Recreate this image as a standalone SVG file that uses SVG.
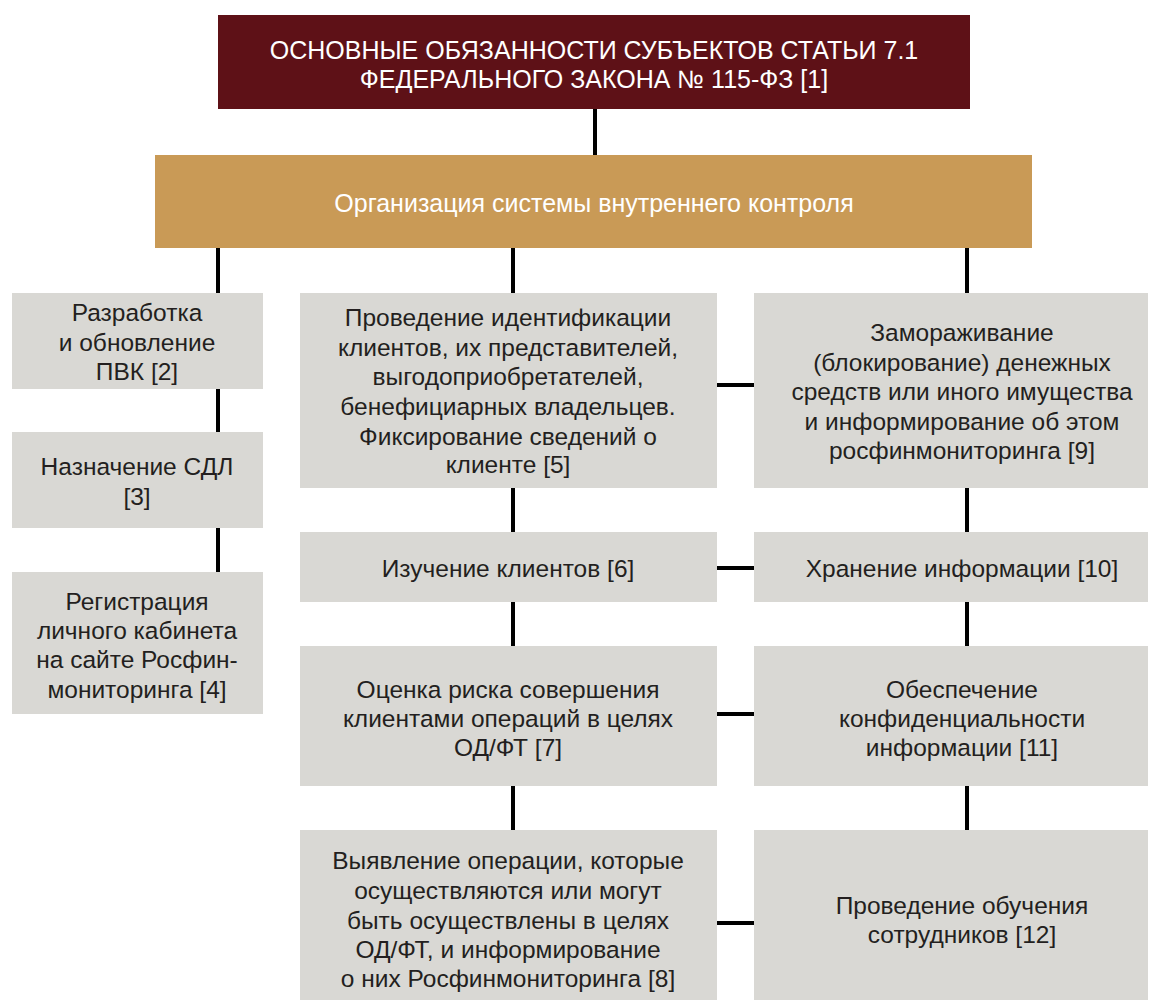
<svg xmlns="http://www.w3.org/2000/svg" width="1160" height="1000" viewBox="0 0 1160 1000">
<style>
.box{fill:#d9d8d4}
.t{font-family:"Liberation Sans",Arial,sans-serif;font-size:24.5px;fill:#231f20;text-anchor:middle}
.w{font-family:"Liberation Sans",Arial,sans-serif;fill:#ffffff;text-anchor:middle}
.c{stroke:#000;stroke-width:4;fill:none}
</style>
<rect width="1160" height="1000" fill="#ffffff"/>
<g id="connectors">
<line class="c" x1="595" y1="108" x2="595" y2="156"/>
<line class="c" x1="218" y1="247" x2="218" y2="294"/>
<line class="c" x1="513" y1="247" x2="513" y2="294"/>
<line class="c" x1="967" y1="247" x2="967" y2="294"/>
<line class="c" x1="218" y1="388" x2="218" y2="433"/>
<line class="c" x1="218" y1="527" x2="218" y2="573"/>
<line class="c" x1="513" y1="487" x2="513" y2="533"/>
<line class="c" x1="513" y1="601" x2="513" y2="647"/>
<line class="c" x1="513" y1="785" x2="513" y2="831"/>
<line class="c" x1="967" y1="487" x2="967" y2="533"/>
<line class="c" x1="967" y1="601" x2="967" y2="647"/>
<line class="c" x1="967" y1="785" x2="967" y2="831"/>
<line class="c" x1="716" y1="385" x2="755" y2="385"/>
<line class="c" x1="716" y1="568" x2="755" y2="568"/>
<line class="c" x1="716" y1="714" x2="755" y2="714"/>
<line class="c" x1="716" y1="923" x2="755" y2="923"/>
</g>
<g id="n1">
<rect x="218" y="15" width="752" height="94" fill="#5e1117"/>
<text class="w" font-size="25" x="594" y="59">ОСНОВНЫЕ ОБЯЗАННОСТИ СУБЪЕКТОВ СТАТЬИ 7.1</text>
<text class="w" font-size="25" x="594" y="88">ФЕДЕРАЛЬНОГО ЗАКОНА № 115-ФЗ [1]</text>
</g>
<g id="n_org">
<rect x="155" y="155" width="877" height="93" fill="#c99a56"/>
<text class="w" font-size="25" x="594" y="212">Организация системы внутреннего контроля</text>
</g>
<g id="n2">
<rect class="box" x="12" y="293" width="251" height="96"/>
<text class="t" x="137" y="321">Разработка</text>
<text class="t" x="137" y="351">и обновление</text>
<text class="t" x="137" y="380">ПВК [2]</text>
</g>
<g id="n3">
<rect class="box" x="12" y="432" width="251" height="96"/>
<text class="t" x="137" y="475">Назначение СДЛ</text>
<text class="t" x="137" y="505">[3]</text>
</g>
<g id="n4">
<rect class="box" x="12" y="572" width="251" height="142"/>
<text class="t" x="137" y="610">Регистрация</text>
<text class="t" x="137" y="639">личного кабинета</text>
<text class="t" x="137" y="668">на сайте Росфин-</text>
<text class="t" x="137" y="698">мониторинга [4]</text>
</g>
<g id="n5">
<rect class="box" x="300" y="293" width="417" height="195"/>
<text class="t" x="508" y="326">Проведение идентификации</text>
<text class="t" x="508" y="356">клиентов, их представителей,</text>
<text class="t" x="508" y="385">выгодоприобретателей,</text>
<text class="t" x="508" y="415">бенефициарных владельцев.</text>
<text class="t" x="508" y="445">Фиксирование сведений о</text>
<text class="t" x="508" y="473">клиенте [5]</text>
</g>
<g id="n6">
<rect class="box" x="300" y="532" width="417" height="70"/>
<text class="t" x="508" y="577">Изучение клиентов [6]</text>
</g>
<g id="n7">
<rect class="box" x="300" y="646" width="417" height="140"/>
<text class="t" x="508" y="698">Оценка риска совершения</text>
<text class="t" x="508" y="727">клиентами операций в целях</text>
<text class="t" x="508" y="756">ОД/ФТ [7]</text>
</g>
<g id="n8">
<rect class="box" x="300" y="830" width="417" height="170"/>
<text class="t" x="508" y="869">Выявление операции, которые</text>
<text class="t" x="508" y="899">осуществляются или могут</text>
<text class="t" x="508" y="929">быть осуществлены в целях</text>
<text class="t" x="508" y="958">ОД/ФТ, и информирование</text>
<text class="t" x="508" y="987">о них Росфинмониторинга [8]</text>
</g>
<g id="n9">
<rect class="box" x="754" y="293" width="394" height="195"/>
<text class="t" x="962" y="341">Замораживание</text>
<text class="t" x="962" y="371">(блокирование) денежных</text>
<text class="t" x="962" y="400">средств или иного имущества</text>
<text class="t" x="962" y="430">и информирование об этом</text>
<text class="t" x="962" y="459">росфинмониторинга [9]</text>
</g>
<g id="n10">
<rect class="box" x="754" y="532" width="394" height="70"/>
<text class="t" x="962" y="577">Хранение информации [10]</text>
</g>
<g id="n11">
<rect class="box" x="754" y="646" width="394" height="140"/>
<text class="t" x="962" y="698">Обеспечение</text>
<text class="t" x="962" y="727">конфиденциальности</text>
<text class="t" x="962" y="756">информации [11]</text>
</g>
<g id="n12">
<rect class="box" x="754" y="830" width="394" height="170"/>
<text class="t" x="962" y="914">Проведение обучения</text>
<text class="t" x="962" y="943">сотрудников [12]</text>
</g>
</svg>
